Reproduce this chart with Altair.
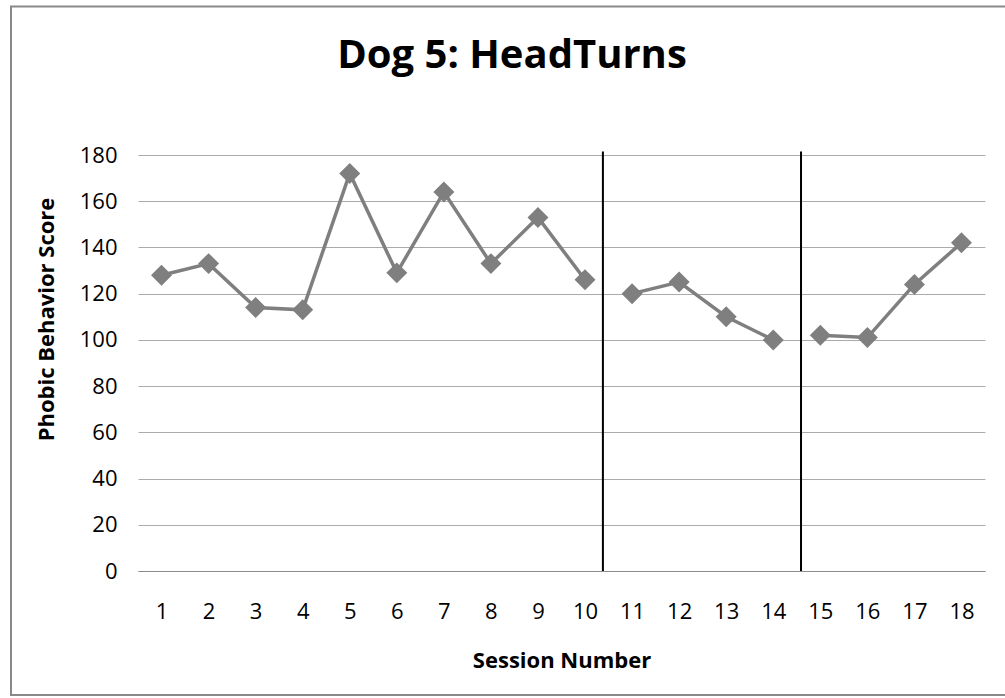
import altair as alt
import pandas as pd

# Session scores for Dog 5 (head turns), split into three phases
sessions = list(range(1, 19))
scores = [128, 133, 114, 113, 172, 129, 164, 133, 153, 126,
          120, 125, 110, 100,
          102, 101, 124, 142]
phases = ["A"] * 10 + ["B"] * 4 + ["C"] * 4

# Phase-change markers along the session axis
phase_breaks = [10.38, 14.59]
y_ticks = list(range(0, 181, 20))

TITLE = "Dog 5: HeadTurns"
FONT = "Open Sans"
GRAY = "#7f7f7f"

df = pd.DataFrame({"session": sessions, "score": scores, "phase": phases})
breaks_df = pd.DataFrame({"session": phase_breaks, "lo": [0, 0], "hi": [181.5, 181.5]})

x_scale = alt.Scale(domain=[0.5, 18.5], nice=False, zero=False)
y_scale = alt.Scale(domain=[0, 180], nice=False)

base = alt.Chart(df)

line = base.mark_line(color=GRAY, strokeWidth=3.5).encode(
    x=alt.X(
        "session:Q",
        scale=x_scale,
        axis=alt.Axis(
            values=sessions,
            title="Session Number",
            grid=False,
            ticks=False,
            domain=True,
            domainColor="#8c8c8c",
            domainWidth=1,
            labelFont=FONT,
            labelFontSize=22,
            labelColor="#000000",
            labelPadding=30,
            labelFlush=False,
            titleFont=FONT,
            titleFontSize=22,
            titleFontWeight="bold",
            titleColor="#000000",
            titlePadding=28,
        ),
    ),
    y=alt.Y(
        "score:Q",
        scale=y_scale,
        axis=alt.Axis(
            values=y_ticks,
            title="Phobic Behavior Score",
            grid=True,
            gridColor="#ababab",
            gridWidth=1,
            ticks=False,
            domain=False,
            labelFont=FONT,
            labelFontSize=22,
            labelColor="#000000",
            labelPadding=21,
            titleFont=FONT,
            titleFontSize=22,
            titleFontWeight="bold",
            titleColor="#000000",
            titleAngle=-90,
            titleAlign="center",
            titleBaseline="middle",
            titleX=-92,
            titleY=164,
        ),
    ),
    detail="phase:N",
)

points = base.mark_point(
    shape="diamond", filled=True, size=440, color=GRAY, opacity=1
).encode(x="session:Q", y="score:Q")

rules = alt.Chart(breaks_df).mark_rule(color="#000000", strokeWidth=2).encode(
    x="session:Q", y="lo:Q", y2="hi:Q"
)

frame = alt.Chart(alt.Data(values=[{}])).mark_rect(
    fill="transparent", stroke="#898989", strokeWidth=2
).encode(
    x=alt.value(-127),
    x2=alt.value(880),
    y=alt.value(-148.5),
    y2=alt.value(540),
)

heading = alt.Chart(alt.Data(values=[{}])).mark_text(
    font=FONT,
    fontSize=40,
    fontWeight="bold",
    color="#000000",
    align="center",
    baseline="alphabetic",
).encode(
    x=alt.value(374),
    y=alt.value(-87),
    text=alt.value(TITLE),
)

chart = (
    alt.layer(frame, heading, line, points, rules)
    .properties(
        width=847,
        height=416,
        autosize=alt.AutoSizeParams(type="none"),
        padding={"left": 138, "top": 155, "right": 20, "bottom": 127},
        background="white",
    )
    .configure_view(stroke=None)
)

chart.save("out.html", embed_options={"renderer": "svg", "actions": False})
